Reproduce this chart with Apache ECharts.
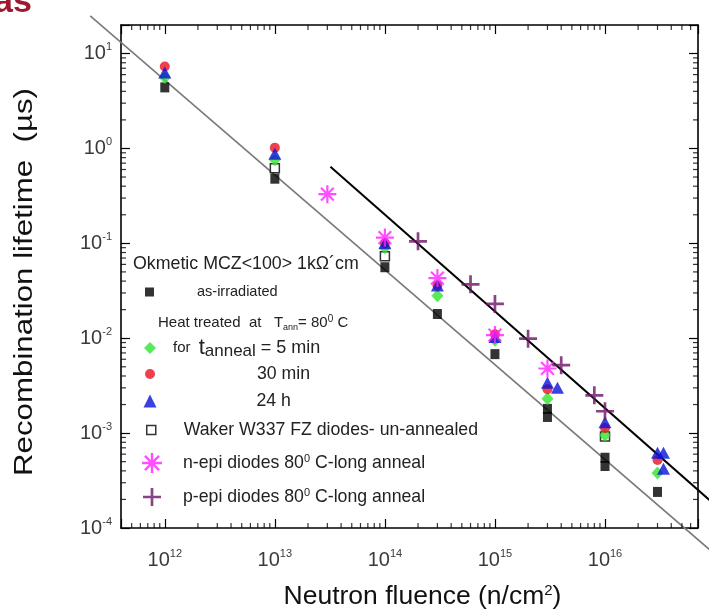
<!DOCTYPE html>
<html><head><meta charset="utf-8">
<script src="https://cdn.jsdelivr.net/npm/echarts@6/dist/echarts.min.js"></script>
<style>html,body{margin:0;padding:0;background:#fff}#c{width:709px;height:611px}</style>
</head><body><div id="c"></div>
<script>
const FONT = "'Liberation Sans', Arial, sans-serif";

// ---- data (fluence n/cm^2, lifetime µs) ----
const asIrradiated = [[1e12,4.4],[1e13,0.48],[1e14,0.056],[3e14,0.018],[1e15,0.0068],[3e15,0.0018],[3e15,0.00148],[1e16,0.00055],[1e16,0.00045],[3e16,0.00024]];
const waker = [[1e13,0.62],[1e14,0.073],[1e16,0.00092]];
const anneal5 = [[1e12,5.6],[1e13,0.76],[1e14,0.09],[3e14,0.028],[1e15,0.0095],[3e15,0.0023],[1e16,0.00095],[3e16,0.00038]];
const anneal30 = [[1e12,7.3],[1e13,1.02],[1e14,0.1],[3e14,0.036],[1e15,0.011],[3e15,0.0029],[1e16,0.00113],[3e16,0.00052]];
const anneal24h = [[1e12,6.3],[1e13,0.88],[1e14,0.1],[3e14,0.036],[1e15,0.0103],[3e15,0.0034],[3.7e15,0.003],[1e16,0.0013],[3e16,0.00062],[3.4e16,0.00062],[3.4e16,0.00042]];
const nEpi = [[3e13,0.33],[1e14,0.115],[3e14,0.043],[1e15,0.0108],[3e15,0.0048]];
const pEpi = [[2e14,0.105],[6e14,0.037],[1e15,0.023],[2e15,0.0099],[4e15,0.0052],[8e15,0.0025],[1e16,0.0017]];
const fitGray = [[2.1e11,25],[1.2e17,4.4e-5]];
const fitBlack = [[3.2e13,0.64],[1.0e17,1.75e-4]];

const X_MIN = 4.0e11, X_MAX = 7.0e16, Y_MIN = 1e-4, Y_MAX = 20;
const minorFactors = [2,3,4,5,6,7,8,9];

// layout
const W = 709, H = 611;
const GRID = {left: 121, right: 11, top: 25, bottom: 83};

// hidden full-canvas axes sharing the same log mapping (so fit lines may run past the frame)
const lg = Math.log10;
const pxDecX = (W - GRID.left - GRID.right) / (lg(X_MAX) - lg(X_MIN));
const pxDecY = (H - GRID.top - GRID.bottom) / (lg(Y_MAX) - lg(Y_MIN));
const OVX_MIN = Math.pow(10, lg(X_MIN) - GRID.left / pxDecX);
const OVX_MAX = Math.pow(10, lg(X_MAX) + GRID.right / pxDecX);
const OVY_MIN = Math.pow(10, lg(Y_MIN) - GRID.bottom / pxDecY);
const OVY_MAX = Math.pow(10, lg(Y_MAX) + GRID.top / pxDecY);

function minorTicks(lo, hi) {
  const out = [];
  for (let e = Math.floor(lg(lo)); e <= Math.ceil(lg(hi)); e++) {
    minorFactors.forEach(k => { const v = k * Math.pow(10, e); if (v > lo && v < hi) out.push(v); });
  }
  return out;
}
const xMinor = minorTicks(X_MIN, X_MAX);
const yMinor = minorTicks(Y_MIN, Y_MAX);

function powLabel(v) {
  const e = lg(v), r = Math.round(e);
  if (Math.abs(e - r) > 1e-3) return '';
  return '{b|10}{s|' + r + '}';
}
const tickRich = {
  b: {fontFamily: FONT, fontSize: 20, color: '#3a3a3a', lineHeight: 24},
  s: {fontFamily: FONT, fontSize: 11, color: '#3a3a3a', verticalAlign: 'top', lineHeight: 12}
};

const ASTERISK = 'path://M8.8 0h2.4v20h-2.4zM0 8.8h20v2.4h-20zM3.78 2.08L17.92 16.22L16.22 17.92L2.08 3.78zM17.92 3.78L3.78 17.92L2.08 16.22L16.22 2.08z';
const PLUS = 'path://M8.5 0h3v8.5h8.5v3h-8.5v8.5h-3v-8.5h-8.5v-3h8.5z';

const axisLine = {onZero: false, lineStyle: {color: '#000', width: 1.6}};
const axisTick = {inside: true, length: 9, lineStyle: {color: '#000', width: 1.2}};

function tickSeries(data, size, offset) {
  return {type: 'scatter', silent: true, data: data, symbol: 'rect', symbolSize: size,
          symbolOffset: offset, itemStyle: {color: '#000'}, z: 5, clip: false};
}

const legColor = '#222';
const legText = {fontFamily: FONT, fontSize: 17.7, color: legColor, lineHeight: 20};
const supRich = {sup: {fontFamily: FONT, fontSize: 11, color: legColor, verticalAlign: 'top', lineHeight: 10}};
function leg(name, left, cy, size, pad, extra) {
  return Object.assign({
    data: [name], left: left, top: cy - 10, padding: 0, orient: 'vertical',
    selectedMode: false, itemWidth: size, itemHeight: size,
    textStyle: Object.assign({}, legText, {padding: [0, 0, 0, pad], rich: supRich})
  }, extra || {});
}

const option = {
  animation: false,
  backgroundColor: '#fff',
  grid: [
    {left: GRID.left, right: GRID.right, top: GRID.top, bottom: GRID.bottom, containLabel: false, outerBoundsMode: 'none'},
    {left: 0, right: 0, top: 0, bottom: 0, show: false, containLabel: false, outerBoundsMode: 'none'}
  ],
  xAxis: [
    {type: 'log', logBase: 10, min: X_MIN, max: X_MAX, position: 'bottom', gridIndex: 0,
     axisLine: axisLine, axisTick: axisTick, splitLine: {show: false},
     axisLabel: {formatter: powLabel, margin: 20, rich: tickRich},
     name: 'Neutron fluence (n/cm{s|2})', nameLocation: 'middle', nameGap: 55,
     nameTextStyle: {fontFamily: FONT, fontSize: 26.5, color: '#111', padding: [0, 0, 0, 26],
       rich: {s: {fontFamily: FONT, fontSize: 15, color: '#111', verticalAlign: 'top', lineHeight: 14}}}},
    {type: 'log', logBase: 10, min: X_MIN, max: X_MAX, position: 'top', gridIndex: 0,
     axisLine: axisLine, axisTick: axisTick, splitLine: {show: false}, axisLabel: {show: false}},
    {type: 'log', logBase: 10, min: OVX_MIN, max: OVX_MAX, gridIndex: 1, show: false}
  ],
  yAxis: [
    {type: 'log', logBase: 10, min: Y_MIN, max: Y_MAX, position: 'left', gridIndex: 0,
     axisLine: axisLine, axisTick: axisTick, splitLine: {show: false},
     axisLabel: {formatter: powLabel, margin: 9, rich: tickRich}},
    {type: 'log', logBase: 10, min: Y_MIN, max: Y_MAX, position: 'right', gridIndex: 0,
     axisLine: axisLine, axisTick: axisTick, splitLine: {show: false}, axisLabel: {show: false}},
    {type: 'log', logBase: 10, min: OVY_MIN, max: OVY_MAX, gridIndex: 1, show: false}
  ],
  legend: [
    leg('as-irradiated', 145, 292, 9, 37, {textStyle: Object.assign({}, legText, {fontSize: 14.5, padding: [0,0,0,38]})}),
    leg('5 min', 144, 346, 12, 12, {
      formatter: '{f|for }{t|t}{sub|anneal}{e| = 5 min}',
      textStyle: Object.assign({}, legText, {padding: [0,0,0,12], rich: {
        f: {fontFamily: FONT, fontSize: 15, color: legColor, lineHeight: 24},
        t: {fontFamily: FONT, fontSize: 22, color: legColor, lineHeight: 24, padding: [0,0,0,4]},
        sub: {fontFamily: FONT, fontSize: 17, color: legColor, lineHeight: 16, verticalAlign: 'bottom'},
        e: {fontFamily: FONT, fontSize: 18, color: legColor, lineHeight: 24}
      }})}),
    leg('30 min', 145, 374, 10, 97),
    leg('24 h', 143.5, 401, 13, 95),
    leg('Waker W337 FZ diodes- un-annealed', 146, 430, 9, 23,
        {itemStyle: {color: '#fff', borderColor: '#000', borderWidth: 1.5}}),
    leg('n-epi diodes 80° C-long anneal', 142, 463, 20, 16,
        {formatter: 'n-epi diodes 80{sup|0} C-long anneal'}),
    leg('p-epi diodes 80° C-long anneal', 143, 497, 18, 17,
        {formatter: 'p-epi diodes 80{sup|0} C-long anneal'})
  ],
  graphic: [
    {type: 'text', x: -6, y: 20, style: {text: 'as', fontFamily: FONT, fontSize: 34, fontWeight: 'bold', fill: '#9e1830', verticalAlign: 'bottom'}},
    {type: 'text', x: 25, y: 282, rotation: Math.PI / 2, scaleX: 1.25,
     style: {text: 'Recombination lifetime  (µs)', fontFamily: FONT, fontSize: 25, fill: '#111', align: 'center', verticalAlign: 'middle'}},
    {type: 'text', x: 133, y: 264, style: {text: 'Okmetic MCZ<100> 1kΩ´cm', fontFamily: FONT, fontSize: 17.8, fill: legColor, verticalAlign: 'middle'}},
    {type: 'text', x: 158, y: 323, style: {
      text: '{a|Heat treated  at   T}{sub|ann}{a|= 80}{sup|0}{a| C}', verticalAlign: 'middle',
      rich: {
        a: {fontFamily: FONT, fontSize: 15, fill: legColor, lineHeight: 18},
        sub: {fontFamily: FONT, fontSize: 9, fill: legColor, verticalAlign: 'bottom', lineHeight: 8},
        sup: {fontFamily: FONT, fontSize: 10, fill: legColor, verticalAlign: 'top', lineHeight: 8}
      }}}
  ],
  series: [
    tickSeries(xMinor.map(v => [v, Y_MIN]), [1.2, 5], [0, -2.5]),
    tickSeries(xMinor.map(v => [v, Y_MAX]), [1.2, 5], [0, 2.5]),
    tickSeries(yMinor.map(v => [X_MIN, v]), [5, 1.2], [2.5, 0]),
    tickSeries(yMinor.map(v => [X_MAX, v]), [5, 1.2], [-2.5, 0]),
    {type: 'line', name: 'fit-gray', data: fitGray, xAxisIndex: 2, yAxisIndex: 2, symbol: 'none', silent: true,
     lineStyle: {color: '#7a7a7a', width: 1.6}, z: 2},
    {type: 'line', name: 'fit-black', data: fitBlack, xAxisIndex: 2, yAxisIndex: 2, symbol: 'none', silent: true,
     lineStyle: {color: '#000', width: 2}, z: 2},
    {type: 'scatter', name: 'as-irradiated', data: asIrradiated, symbol: 'rect', symbolSize: [9, 10],
     itemStyle: {color: '#000'}, z: 3},
    {type: 'scatter', name: 'Waker W337 FZ diodes- un-annealed', data: waker, symbol: 'rect', symbolSize: 9,
     itemStyle: {color: '#fff', borderColor: '#000', borderWidth: 1.5}, z: 3},
    {type: 'scatter', name: '5 min', data: anneal5, symbol: 'diamond', symbolSize: [12, 13],
     itemStyle: {color: '#2fe32f'}, z: 3},
    {type: 'scatter', name: '30 min', data: anneal30, symbol: 'circle', symbolSize: 10,
     itemStyle: {color: '#ea1020'}, z: 3},
    {type: 'scatter', name: '24 h', data: anneal24h, symbol: 'triangle', symbolSize: [13, 12],
     itemStyle: {color: '#0a12d8'}, z: 3},
    {type: 'scatter', name: 'n-epi diodes 80° C-long anneal', data: nEpi, symbol: ASTERISK, symbolSize: 18,
     itemStyle: {color: '#ff22ff'}, z: 4},
    {type: 'scatter', name: 'p-epi diodes 80° C-long anneal', data: pEpi, symbol: PLUS, symbolSize: 18,
     itemStyle: {color: '#6b1466'}, z: 4}
  ]
};
const chart = echarts.init(document.getElementById('c'), null, {renderer: 'canvas'});
chart.setOption(option);
</script></body></html>
